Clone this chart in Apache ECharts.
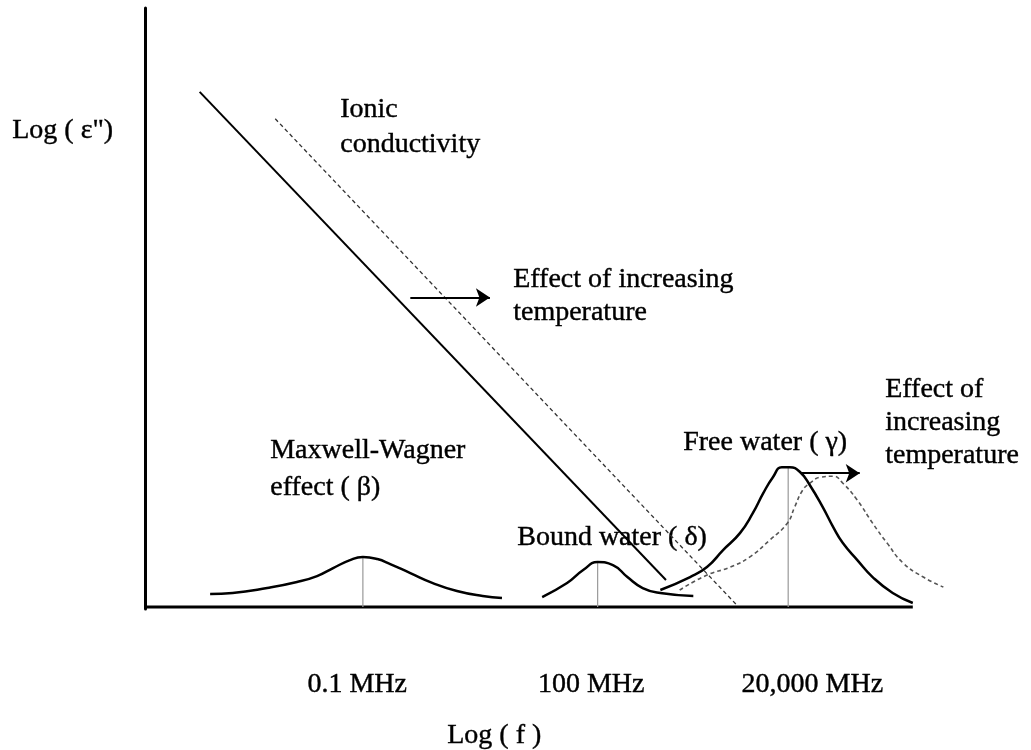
<!DOCTYPE html>
<html><head><meta charset="utf-8">
<script src="https://cdn.jsdelivr.net/npm/echarts@6/dist/echarts.min.js"></script>
<style>html,body{margin:0;padding:0;background:#fff}#c{width:1031px;height:750px}</style>
</head><body><div id="c"></div>
<script>
// x: log10(f / MHz), y: log(eps'') in arbitrary units
const ionicLow = [[-3.02, 5.16], [2.78, 0.27]];
const ionicHigh = [[-2.08, 4.89], [3.66, 0.02]];
const maxwellWagner = [[-2.89,0.13],[-2.61,0.14],[-2.18,0.19],[-1.81,0.25],[-1.56,0.31],[-1.36,0.39],[-1.15,0.47],[-0.99,0.50],[-0.81,0.48],[-0.65,0.43],[-0.40,0.34],[-0.12,0.24],[0.18,0.16],[0.50,0.11],[0.74,0.09]];
const boundWater = [[1.24,0.10],[1.55,0.24],[1.75,0.37],[1.93,0.45],[2.12,0.42],[2.30,0.30],[2.49,0.19],[2.71,0.14],[3.12,0.11]];
const freeWater = [[2.71,0.17],[3.08,0.30],[3.29,0.40],[3.49,0.57],[3.70,0.74],[3.86,0.94],[3.99,1.14],[4.11,1.30],[4.22,1.40],[4.32,1.40],[4.45,1.35],[4.57,1.22],[4.73,1.00],[4.86,0.80],[4.98,0.64],[5.16,0.47],[5.35,0.30],[5.60,0.14],[5.85,0.04]];
const freeWaterHot = [[2.95,0.17],[3.29,0.32],[3.58,0.40],[3.82,0.50],[4.07,0.67],[4.29,0.84],[4.38,1.00],[4.48,1.17],[4.57,1.24],[4.70,1.30],[4.86,1.31],[4.98,1.24],[5.16,1.07],[5.35,0.84],[5.53,0.64],[5.73,0.44],[5.98,0.30],[6.23,0.20]];
const peakX = [-0.99, 1.93, 4.30];
const peakY = [0.50, 0.45, 1.40];
const arrowIonic = [[-0.40, 3.10], [0.59, 3.10]];
const arrowFree = [[4.45, 1.34], [5.19, 1.34]];
const baseLine = [[-3.70, 0], [5.85, 0]];
const tickPos = [-1.06, 1.85, 4.60];
const tickLabels = ['0.1 MHz', '100 MHz', '20,000 MHz'];

const FONT = '28px "Liberation Serif", "Times New Roman", serif';
const texts = [
  ['Log ( ε")', 12, 138],
  ['Ionic', 340, 117],
  ['conductivity', 340, 152],
  ['Effect of increasing', 513, 287],
  ['temperature', 513, 320],
  ['Effect of', 885, 397],
  ['increasing', 885, 430],
  ['temperature', 885, 463],
  ['Free water ( γ)', 683, 450],
  ['Bound water ( δ)', 517, 545],
  ['Maxwell-Wagner', 270, 458],
  ['effect ( β)', 270, 495],
  ['Log ( f )', 447, 743]
];

const chart = echarts.init(document.getElementById('c'), null, {renderer: 'canvas'});
const curve = (data, extra) => Object.assign({
  type: 'line', data, smooth: 0.5, symbol: 'none', silent: true,
  lineStyle: {color: '#000', width: 2.5}
}, extra || {});
const arrowSeries = (pts) => ({
  type: 'line', data: [], silent: true,
  markLine: {
    silent: true, symbol: ['none', 'arrow'], symbolSize: 14,
    label: {show: false},
    lineStyle: {color: '#000', width: 1.8, type: 'solid'},
    itemStyle: {color: '#000'},
    data: [[{coord: pts[0]}, {coord: pts[1]}]]
  }
});
const series = [
  curve(baseLine, {smooth: false, lineStyle: {color: '#000', width: 3}}),
  curve(ionicLow, {smooth: false, lineStyle: {color: '#000', width: 2}}),
  curve(ionicHigh, {smooth: false, lineStyle: {color: '#333', width: 1.3, type: [4, 3]}}),
  ...peakX.map((x, i) => curve([[x, 0], [x, peakY[i]]], {smooth: false, lineStyle: {color: '#999', width: 1.2}})),
  curve(maxwellWagner),
  curve(boundWater),
  curve(freeWaterHot, {lineStyle: {color: '#555', width: 1.6, type: [4, 3]}}),
  curve(freeWater),
  arrowSeries(arrowIonic),
  arrowSeries(arrowFree)
];

chart.setOption({
  animation: false,
  backgroundColor: '#fff',
  grid: {left: 145, right: 78, top: 8, bottom: 141},
  xAxis: {
    type: 'value', min: -3.70, max: 6.35,
    splitLine: {show: false}, axisTick: {show: false},
    axisLine: {show: false},
    axisLabel: {
      show: true, customValues: tickPos, margin: 62,
      color: '#000', fontSize: 28, fontFamily: '"Liberation Serif", "Times New Roman", serif',
      textBorderColor: '#000', textBorderWidth: 0.4,
      formatter: (v) => { const i = tickPos.findIndex(p => Math.abs(p - v) < 1e-6); return i >= 0 ? tickLabels[i] : ''; }
    }
  },
  yAxis: {
    type: 'value', min: -0.02, max: 6,
    splitLine: {show: false}, axisTick: {show: false}, axisLabel: {show: false},
    axisLine: {show: true, onZero: false, lineStyle: {color: '#000', width: 3}}
  },
  graphic: texts.map(t => ({
    type: 'text', left: t[1], top: t[2] - 22, silent: true,
    style: {text: t[0], font: FONT, fill: '#000', stroke: '#000', lineWidth: 0.4}
  })),
  series
});
</script></body></html>
